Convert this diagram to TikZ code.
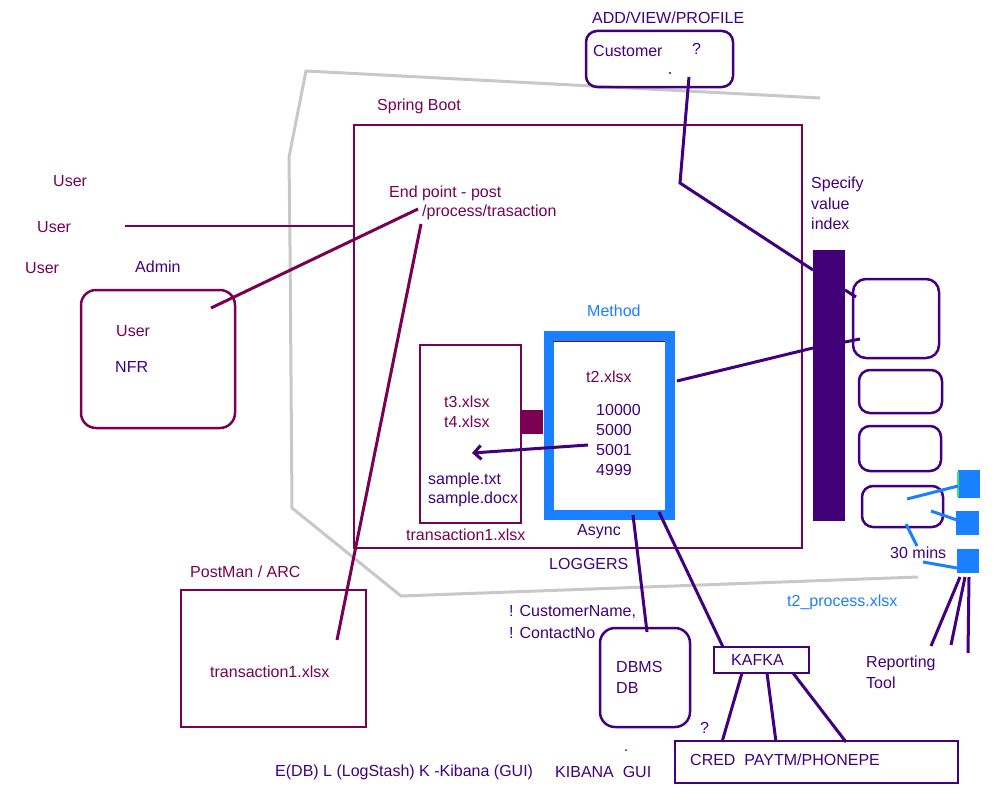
\documentclass[tikz,border=0pt]{standalone}
\usepackage{fontspec}
\setmainfont{Liberation Sans}
\usetikzlibrary{arrows.meta}
\definecolor{mar}{RGB}{122,0,84}
\definecolor{ind}{RGB}{64,0,128}
\definecolor{barc}{RGB}{66,0,120}
\definecolor{blu}{RGB}{26,128,255}
\definecolor{gry}{RGB}{200,200,200}
\definecolor{grn}{RGB}{60,230,90}
\begin{document}
\begin{tikzpicture}[x=1pt,y=-1pt,
  txt/.style={inner sep=0pt, anchor=west, font=\fontsize{16}{19}\selectfont},
  mt/.style={txt, text=mar},
  it/.style={txt, text=ind},
  bt/.style={txt, text=blu},
  mbox/.style={draw=mar, line width=2pt, inner sep=0pt, rectangle},
  ibox/.style={draw=ind, line width=2.5pt, inner sep=0pt, rectangle},
  rbox/.style={ibox, rounded corners=11pt},
  fbox/.style={draw=none, inner sep=0pt, rectangle},
  mline/.style={draw=mar, line width=3pt},
  iline/.style={draw=ind, line width=3pt},
  bline/.style={draw=blu, line width=3pt},
  gline/.style={draw=gry, line width=3pt}
]
\useasboundingbox (0,0) rectangle (1000,800);
\fill[white] (0,0) rectangle (1000,800);

% gray outline
\coordinate (g1) at (820,98);
\coordinate (g2) at (306,71);
\coordinate (g3) at (289,157);
\coordinate (g4) at (290,247);
\coordinate (g5) at (292,508);
\coordinate (g6) at (401,596);
\coordinate (g7) at (918,577);
\draw[gline] (g1) -- (g2) -- (g3) -- (g4) -- (g5) -- (g6) -- (g7);

% boxes
\node[rbox, minimum width=147pt, minimum height=56pt] (cust) at (659.5,59) {};
\node[mbox, minimum width=448pt, minimum height=423pt] (sb) at (578,336.5) {};
\node[mbox, line width=2.5pt, rounded corners=15pt, minimum width=154pt, minimum height=138pt] (admin) at (158,359) {};
\node[mbox, minimum width=185pt, minimum height=137pt] (post) at (273.5,658.5) {};
\node[mbox, minimum width=101pt, minimum height=178pt] (linner) at (470.5,434) {};
\node[fbox, fill=mar, minimum width=22pt, minimum height=24pt] (conn) at (532,422) {};
\node[draw=blu, line width=10pt, inner sep=0pt, minimum width=121.5pt, minimum height=179pt] (method) at (609.25,425.5) {};
\draw[mar, line width=1pt] (553,341.5) -- (665,341.5);
\node[fbox, fill=barc, minimum width=32pt, minimum height=271pt] (bar) at (829,385.5) {};
\node[rbox, rounded corners=13pt, minimum width=86pt, minimum height=79pt] (ra) at (896,318.5) {};
\node[rbox, minimum width=83pt, minimum height=43pt] (rb) at (900.5,391.5) {};
\node[rbox, minimum width=82pt, minimum height=45pt] (rc) at (900,448.5) {};
\node[rbox, minimum width=81pt, minimum height=41pt] (rd) at (902.5,506.5) {};
\node[fbox, fill=blu, minimum width=22pt, minimum height=28pt] (s1) at (969,484) {};
\fill[grn] (956.5,472) rectangle (958.5,497);
\node[fbox, fill=blu, minimum width=23pt, minimum height=24pt] (s2) at (967.5,523) {};
\node[fbox, fill=blu, minimum width=22pt, minimum height=24pt] (s3) at (968,561) {};
\node[rbox, rounded corners=15pt, minimum width=90pt, minimum height=99pt] (dbms) at (645,677.5) {};
\node[ibox, minimum width=95pt, minimum height=26pt] (kafka) at (761.5,660) {};
\node[ibox, minimum width=283pt, minimum height=42pt] (cred) at (816.5,762) {};

% line end points
\coordinate (u2) at (125,226);
\coordinate (sbw) at (354,226);
\coordinate (ep1) at (418,209);
\coordinate (ad1) at (211,308);
\coordinate (ep2) at (421,224);
\coordinate (pm1) at (337,640);
\coordinate (cu1) at (689,77);
\coordinate (cu2) at (680,183);
\coordinate (br1) at (813,270);
\coordinate (me1) at (677,381);
\coordinate (br2) at (813,348);
\coordinate (br3) at (845,290);
\coordinate (ra1) at (856,297);
\coordinate (br4) at (845,342);
\coordinate (ra2) at (860,339);
\coordinate (ar1) at (588,445);
\coordinate (ar2) at (472,453);
\coordinate (me2) at (633,515);
\coordinate (db1) at (647,632);
\coordinate (me3) at (659,512);
\coordinate (ka1) at (723,647);
\coordinate (ka2) at (742,673);
\coordinate (cr1) at (722,742);
\coordinate (ka3) at (767,673);
\coordinate (cr2) at (776,742);
\coordinate (ka4) at (793,673);
\coordinate (cr3) at (846,742);
\coordinate (rd1) at (907,499);
\coordinate (s1a) at (958,486);
\coordinate (rd2) at (931,511);
\coordinate (s2a) at (957,520);
\coordinate (rd3) at (906,524);
\coordinate (mi1) at (917,546);
\coordinate (mi2) at (923,562);
\coordinate (s3a) at (957,568);
\coordinate (s3b) at (960,577);
\coordinate (rp1) at (931,646);
\coordinate (s3c) at (965,577);
\coordinate (rp2) at (951,645);
\coordinate (s3d) at (969,577);
\coordinate (rp3) at (968,653);

% connectors
\draw[mar, line width=2pt] (u2) -- (sbw);
\draw[mline] (ep1) -- (ad1);
\draw[mline] (ep2) -- (pm1);
\draw[iline] (cu1) -- (cu2) -- (br1);
\draw[iline] (me1) -- (br2);
\draw[iline] (br3) -- (ra1);
\draw[iline] (br4) -- (ra2);
\draw[iline, -{Straight Barb[length=7pt,width=14pt]}] (ar1) -- (ar2);
\draw[iline] (me2) -- (db1);
\draw[iline] (me3) -- (ka1);
\draw[iline] (ka2) -- (cr1);
\draw[iline] (ka3) -- (cr2);
\draw[iline] (ka4) -- (cr3);
\draw[bline] (rd1) -- (s1a);
\draw[bline] (rd2) -- (s2a);
\draw[bline] (rd3) -- (mi1);
\draw[bline] (mi2) -- (s3a);
\draw[iline] (s3b) -- (rp1);
\draw[iline] (s3c) -- (rp2);
\draw[iline] (s3d) -- (rp3);
\fill[ind] (670,73) circle (1.2pt);
\fill[ind] (626,750) circle (1pt);

% texts
\node[it] (t-avp) at (592,18) {ADD/VIEW/PROFILE};
\node[it] (t-cust) at (593,51) {Customer};
\node[it] (t-q1) at (692,49) {?};
\node[mt] (t-sb) at (377,106) {Spring Boot};
\node[mt] (t-u1) at (53,181) {User};
\node[mt] (t-u2) at (37,227) {User};
\node[mt] (t-u3) at (25,268) {User};
\node[it] (t-adm) at (135,267) {Admin};
\node[mt] (t-ep) at (389,193) {End point - post};
\node[mt] (t-pt) at (422,212) {/process/trasaction};
\node[mt] (t-au) at (116,331) {User};
\node[it] (t-nfr) at (115,367) {NFR};
\node[it] (t-sp) at (811,184) {Specify};
\node[it] (t-va) at (811,204) {value};
\node[it] (t-ix) at (811,224) {index};
\node[bt] (t-me) at (587,311) {Method};
\node[mt] (t-t2) at (586,377) {t2.xlsx};
\node[it] (t-n1) at (596,410) {10000};
\node[it] (t-n2) at (596,430) {5000};
\node[it] (t-n3) at (596,450) {5001};
\node[it] (t-n4) at (596,470) {4999};
\node[mt] (t-t3) at (444,402) {t3.xlsx};
\node[mt] (t-t4) at (444,422) {t4.xlsx};
\node[it] (t-st) at (428,480) {sample.txt};
\node[it] (t-sd) at (428,499) {sample.docx};
\node[mt] (t-tr1) at (406,535) {transaction1.xlsx};
\node[it] (t-as) at (577,532) {Async};
\node[it] (t-lg) at (549,564) {LOGGERS};
\node[mt] (t-pm) at (190,572) {PostMan / ARC};
\node[mt] (t-tr2) at (210,672) {transaction1.xlsx};
\node[it] (t-cn) at (509,612) {! CustomerName,};
\node[it] (t-cc) at (509,633) {! ContactNo};
\node[it] (t-db1) at (616,667) {DBMS};
\node[it] (t-db2) at (616,688) {DB};
\node[it] (t-ka) at (731,660) {KAFKA};
\node[it] (t-q2) at (700,728) {?};
\node[it] (t-cr) at (690,760) {CRED\ \ PAYTM/PHONEPE};
\node[it] (t-elk) at (275,772) {E(DB) L (LogStash) K -Kibana (GUI)};
\node[it] (t-kg) at (555,772) {KIBANA\ \ GUI};
\node[it] (t-30) at (890,553) {30 mins};
\node[bt] (t-tp) at (787,602) {t2\_process.xlsx};
\node[it] (t-rp) at (866,663) {Reporting};
\node[it] (t-rt) at (866,683) {Tool};
\end{tikzpicture}
\end{document}
